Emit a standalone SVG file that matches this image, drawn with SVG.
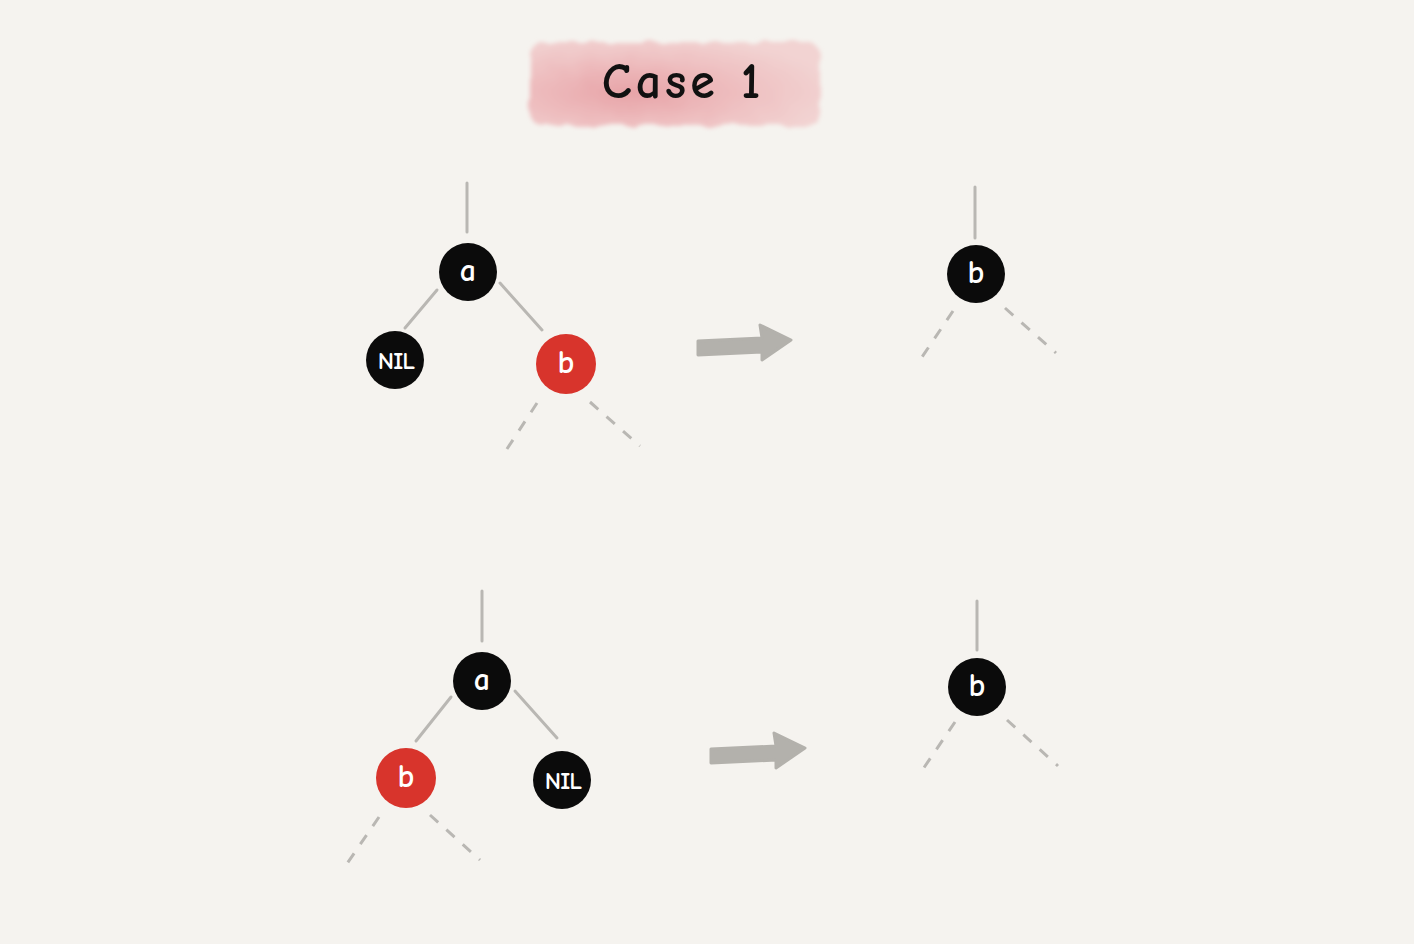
<svg xmlns="http://www.w3.org/2000/svg" width="1414" height="944" viewBox="0 0 1414 944">
<style>
.edge{stroke:#b9b7b3;stroke-width:3;stroke-linecap:round;fill:none}
.dash{stroke:#b9b7b3;stroke-width:3;stroke-dasharray:11 11;fill:none}
.blk{fill:#0b0b0b}
.red{fill:#d8342c}
.lbl{font-family:"Comic Neue","DejaVu Sans","Liberation Sans",sans-serif;fill:#fff;text-anchor:middle;dominant-baseline:central;font-weight:bold}
.big{font-size:32px}
.nil{font-size:25px;letter-spacing:-1px}
.arrow{fill:#b3b1ac}
</style>
<defs>
<radialGradient id="pink" cx="0.35" cy="0.6" r="0.7">
<stop offset="0" stop-color="#e7a3a7"/>
<stop offset="0.6" stop-color="#efc2c3"/>
<stop offset="1" stop-color="#f2d3d2"/>
</radialGradient>
<filter id="soft" x="-10%" y="-20%" width="120%" height="140%">
<feTurbulence type="fractalNoise" baseFrequency="0.05" numOctaves="2" result="n"/>
<feDisplacementMap in="SourceGraphic" in2="n" scale="10"/>
<feGaussianBlur stdDeviation="2"/>
</filter>
</defs>
<rect width="1414" height="944" fill="#f5f3ef"/>
<g id="title">
<rect x="530" y="42" width="290" height="84" rx="14" fill="url(#pink)" filter="url(#soft)"/>
<text x="683" y="82" font-family="'Comic Neue','DejaVu Sans','Liberation Sans',sans-serif" font-size="50" font-weight="bold" fill="#111" text-anchor="middle" dominant-baseline="central" letter-spacing="4">Case 1</text>
</g>
<g id="connectors">
<line class="edge" x1="467" y1="183" x2="467" y2="232"/>
<line class="edge" x1="437" y1="290" x2="405" y2="328"/>
<line class="edge" x1="500" y1="283" x2="542" y2="330"/>
<line class="dash" x1="537" y1="403" x2="505" y2="452"/>
<line class="dash" x1="590" y1="402" x2="640" y2="446"/>
<line class="edge" x1="975" y1="187" x2="975" y2="238"/>
<line class="dash" x1="953" y1="311" x2="920" y2="360"/>
<line class="dash" x1="1005" y1="308" x2="1056" y2="353"/>
<line class="edge" x1="482" y1="591" x2="482" y2="641"/>
<line class="edge" x1="451" y1="697" x2="416" y2="741"/>
<line class="edge" x1="515" y1="691" x2="557" y2="738"/>
<line class="dash" x1="379" y1="817" x2="344" y2="868"/>
<line class="dash" x1="430" y1="815" x2="480" y2="860"/>
<line class="edge" x1="977" y1="601" x2="977" y2="650"/>
<line class="dash" x1="955" y1="722" x2="921" y2="772"/>
<line class="dash" x1="1007" y1="720" x2="1058" y2="766"/>
</g>
<g id="arrow1">
<path class="arrow" d="M698 341 L762 338 L760 325 L791 340 L762 360 L762 352 L698 355 Z" stroke="#b3b1ac" stroke-width="3" stroke-linejoin="round"/>
</g>
<g id="arrow2">
<path class="arrow" d="M711 749 L776 746 L774 733 L805 748 L776 768 L776 760 L711 763 Z" stroke="#b3b1ac" stroke-width="3" stroke-linejoin="round"/>
</g>
<g id="t1-a"><circle class="blk" cx="468" cy="272" r="29"/><text class="lbl big" x="468" y="270">a</text></g>
<g id="t1-nil"><circle class="blk" cx="395" cy="360" r="29"/><text class="lbl nil" x="396" y="360">NIL</text></g>
<g id="t1-b"><circle class="red" cx="566" cy="364" r="30"/><text class="lbl big" x="566" y="362">b</text></g>
<g id="t2-b"><circle class="blk" cx="976" cy="274" r="29"/><text class="lbl big" x="976" y="272">b</text></g>
<g id="t3-a"><circle class="blk" cx="482" cy="681" r="29"/><text class="lbl big" x="482" y="679">a</text></g>
<g id="t3-b"><circle class="red" cx="406" cy="778" r="30"/><text class="lbl big" x="406" y="776">b</text></g>
<g id="t3-nil"><circle class="blk" cx="562" cy="780" r="29"/><text class="lbl nil" x="563" y="780">NIL</text></g>
<g id="t4-b"><circle class="blk" cx="977" cy="687" r="29"/><text class="lbl big" x="977" y="685">b</text></g>
</svg>
